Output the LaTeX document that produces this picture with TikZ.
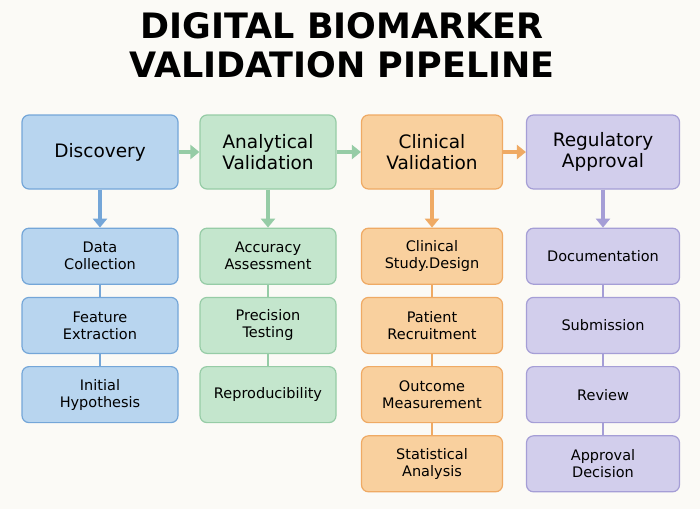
\documentclass[tikz,border=0pt]{standalone}
\usepackage{fontspec}
\setmainfont{DejaVu Sans}
\usetikzlibrary{positioning,arrows.meta}
\definecolor{bgcol}{HTML}{FBFAF6}
\definecolor{blueFill}{HTML}{B8D5EF}\definecolor{blueLine}{HTML}{74A6D8}
\definecolor{greenFill}{HTML}{C4E6CD}\definecolor{greenLine}{HTML}{96CCA6}
\definecolor{orangeFill}{HTML}{F9D09E}\definecolor{orangeLine}{HTML}{EFAA64}
\definecolor{purpleFill}{HTML}{D2CEEC}\definecolor{purpleLine}{HTML}{A59ED6}
\tikzset{
  phase/.style={draw=#1Line, fill=#1Fill, line width=1.2pt, rounded corners=7pt,
    minimum height=74pt, align=center, inner sep=1pt, font=\fontsize{18.5}{21}\selectfont},
  task/.style={draw=#1Line, fill=#1Fill, line width=1.2pt, rounded corners=7pt,
    minimum height=56pt, align=center, inner sep=1pt, font=\fontsize{14.5}{17}\selectfont},
  flow/.style={#1Line, line width=4pt, -{Triangle[length=9pt,width=14pt]}},
  link/.style={#1Line, line width=1.5pt}
}
\begin{document}
\begin{tikzpicture}[x=1pt,y=-1pt]
  \fill[bgcol] (0,0) rectangle (700,509);
  \node[font=\fontsize{35}{39}\selectfont\bfseries, align=center] (title) at (342,45)
    {DIGITAL BIOMARKER\\VALIDATION PIPELINE};

  % phases
  \node[phase=blue, minimum width=156pt] (disc) at (100,152) {Discovery};
  \node[phase=green, minimum width=136pt] (anal) at (268,152) {Analytical\\Validation};
  \node[phase=orange, minimum width=141pt] (clin) at (432,152) {Clinical\\Validation};
  \node[phase=purple, minimum width=153pt] (regu) at (603,152) {Regulatory\\Approval};

  \draw[flow=green] (disc) -- (anal);
  \draw[flow=green] (anal) -- (clin);
  \draw[flow=orange] (clin) -- (regu);

  % discovery tasks
  \node[task=blue, minimum width=156pt, below=38pt of disc] (d1) {Data\\Collection};
  \node[task=blue, minimum width=156pt, below=12pt of d1] (d2) {Feature\\Extraction};
  \node[task=blue, minimum width=156pt, below=12pt of d2] (d3) {Initial\\Hypothesis};
  \draw[flow=blue] (disc) -- (d1);
  \draw[link=blue] (d1) -- (d2) (d2) -- (d3);

  % analytical tasks
  \node[task=green, minimum width=136pt, below=38pt of anal] (a1) {Accuracy\\Assessment};
  \node[task=green, minimum width=136pt, below=12pt of a1] (a2) {Precision\\Testing};
  \node[task=green, minimum width=136pt, below=12pt of a2] (a3) {Reproducibility};
  \draw[flow=green] (anal) -- (a1);
  \draw[link=green] (a1) -- (a2) (a2) -- (a3);

  % clinical tasks
  \node[task=orange, minimum width=141pt, below=38pt of clin] (c1) {Clinical\\Study.Design};
  \node[task=orange, minimum width=141pt, below=12pt of c1] (c2) {Patient\\Recruitment};
  \node[task=orange, minimum width=141pt, below=12pt of c2] (c3) {Outcome\\Measurement};
  \node[task=orange, minimum width=141pt, below=12pt of c3] (c4) {Statistical\\Analysis};
  \draw[flow=orange] (clin) -- (c1);
  \draw[link=orange] (c1) -- (c2) (c2) -- (c3) (c3) -- (c4);

  % regulatory tasks
  \node[task=purple, minimum width=153pt, below=38pt of regu] (r1) {Documentation};
  \node[task=purple, minimum width=153pt, below=12pt of r1] (r2) {Submission};
  \node[task=purple, minimum width=153pt, below=12pt of r2] (r3) {Review};
  \node[task=purple, minimum width=153pt, below=12pt of r3] (r4) {Approval\\Decision};
  \draw[flow=purple] (regu) -- (r1);
  \draw[link=purple] (r1) -- (r2) (r2) -- (r3) (r3) -- (r4);
\end{tikzpicture}
\end{document}
